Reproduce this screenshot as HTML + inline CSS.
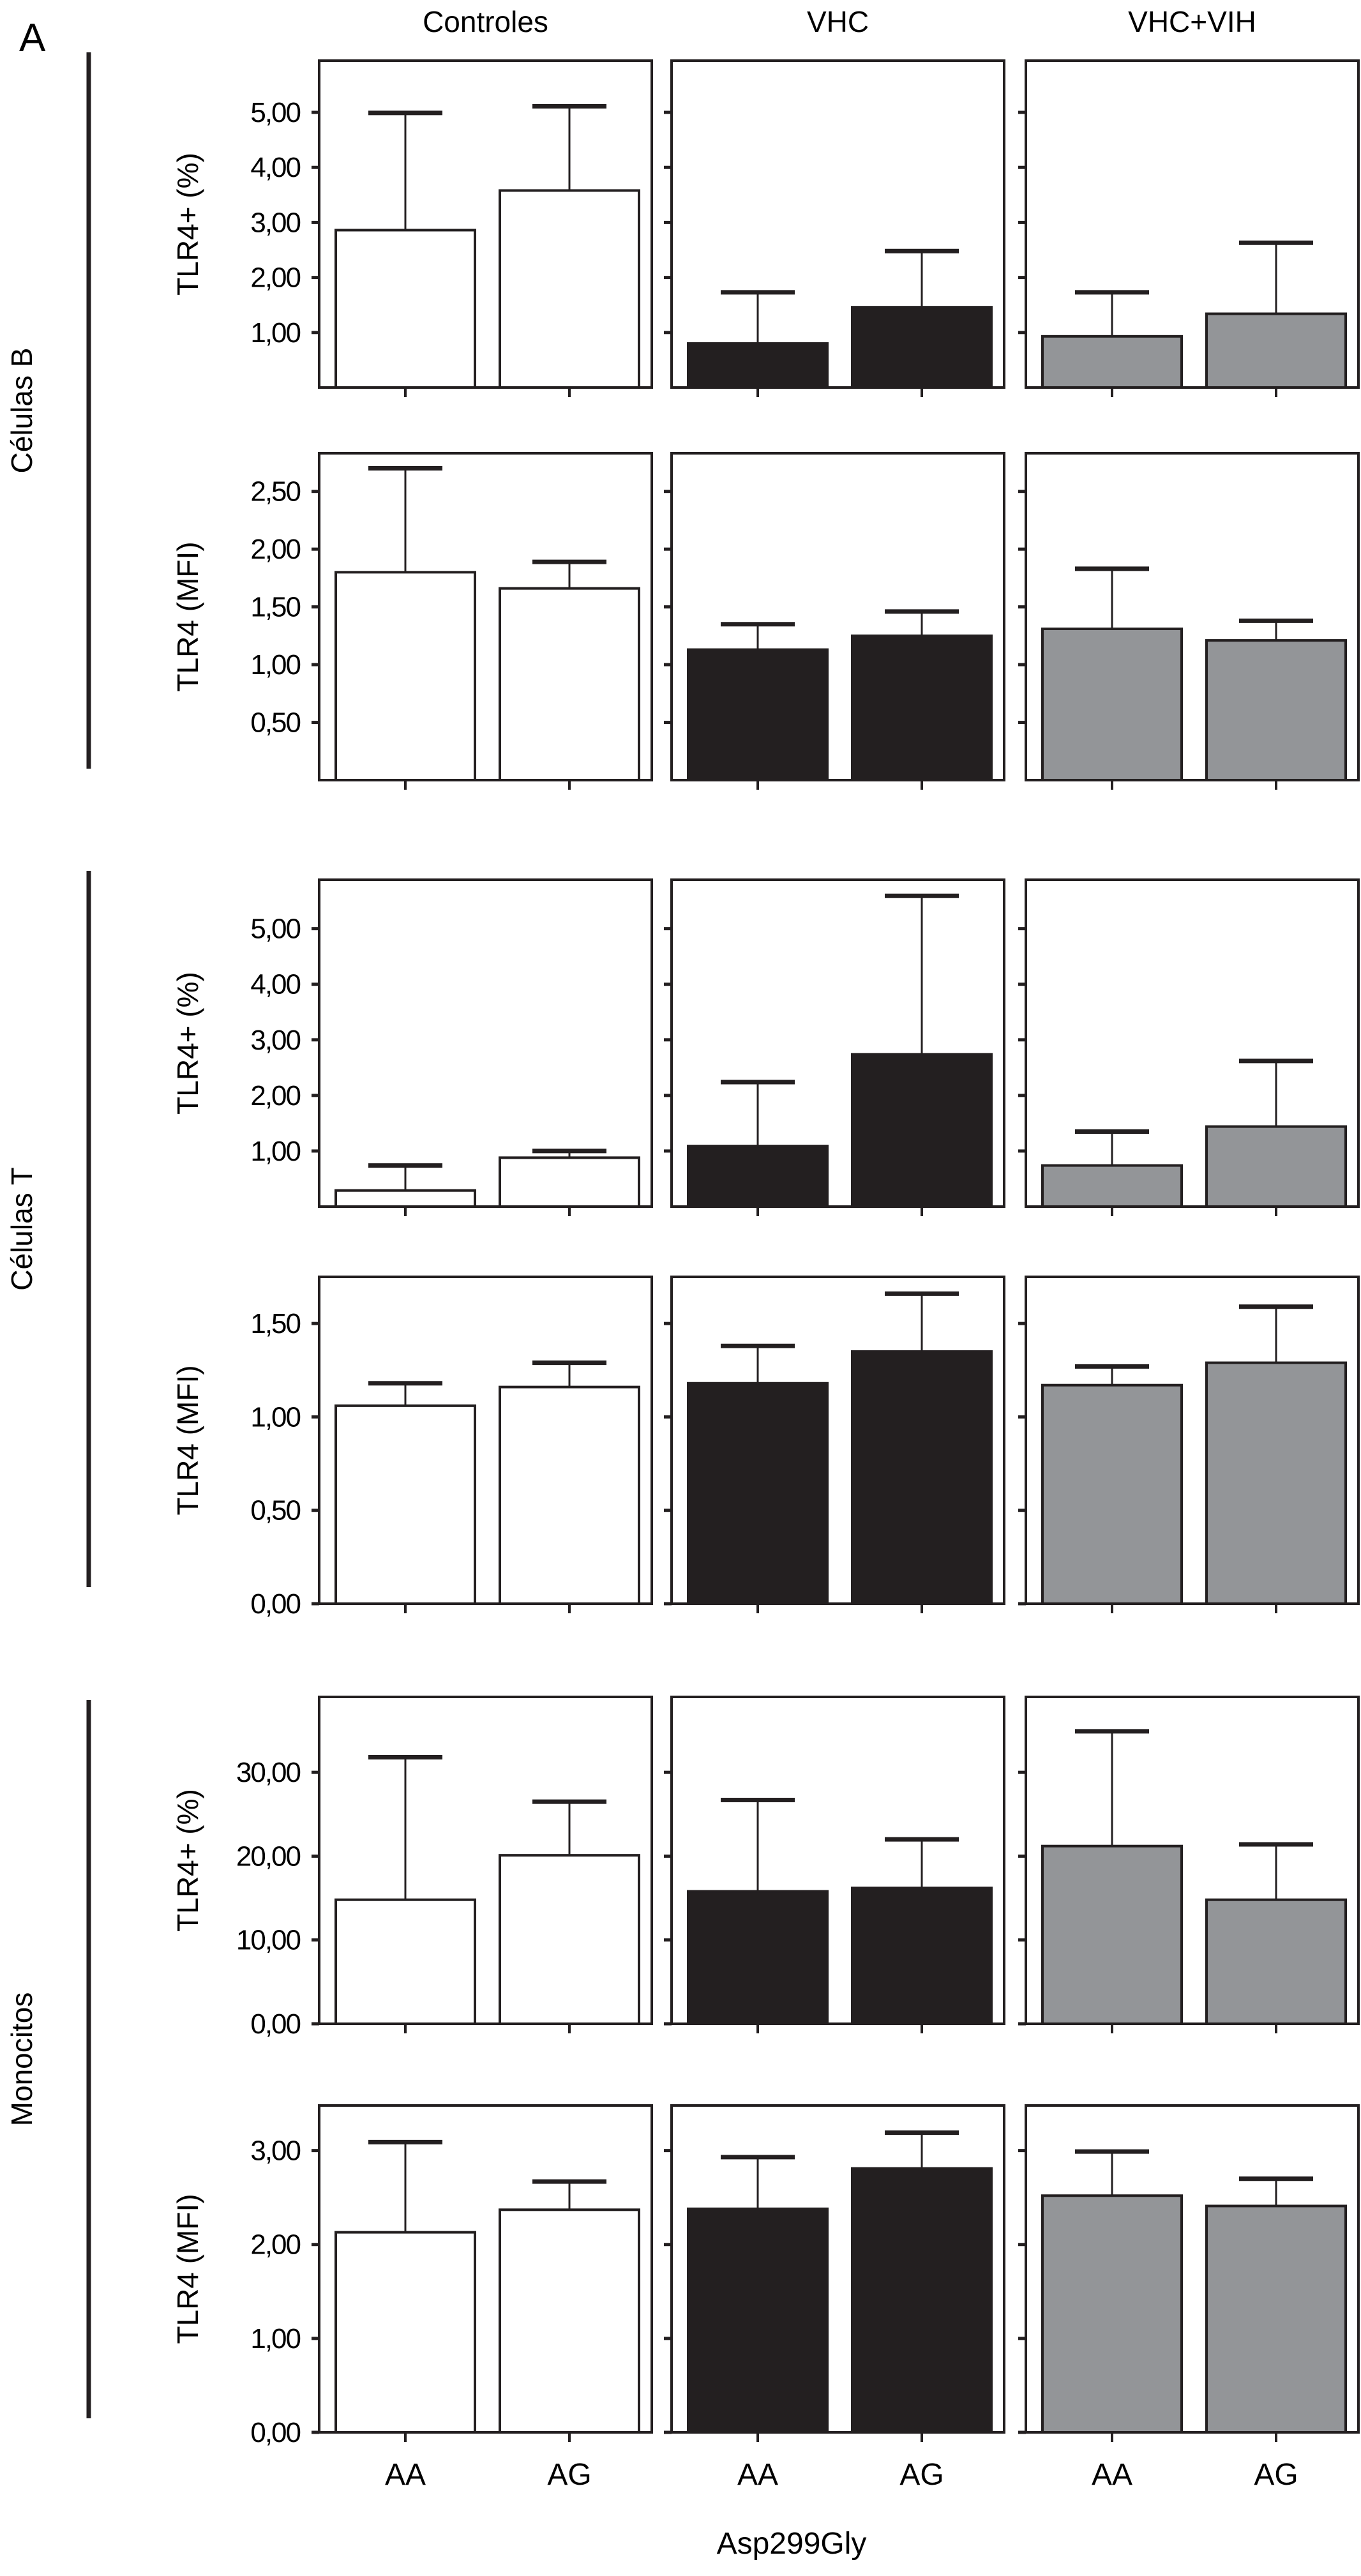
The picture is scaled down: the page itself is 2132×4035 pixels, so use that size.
<!DOCTYPE html>
<html><head><meta charset="utf-8"><style>
html,body{margin:0;padding:0;background:#fff;}
svg{display:block;font-family:"Liberation Sans",sans-serif;}
</style></head><body>
<svg id="chart" width="2132" height="4035" viewBox="0 0 2132 4035" xmlns="http://www.w3.org/2000/svg"></svg>
<script>
const groups = ["Controles","VHC","VHC+VIH"];
const genotypes = ["AA","AG"];
const rowTitles = ["TLR4+ (%)","TLR4 (MFI)","TLR4+ (%)","TLR4 (MFI)","TLR4+ (%)","TLR4 (MFI)"];
const rowMax = [5.94, 2.83, 5.88, 1.75, 39, 3.48];
const rowTicks = [[1,2,3,4,5],[0.5,1,1.5,2,2.5],[1,2,3,4,5],[0,0.5,1,1.5],[0,10,20,30],[0,1,2,3]];
const rowTickLabels = [
 ["1,00","2,00","3,00","4,00","5,00"],
 ["0,50","1,00","1,50","2,00","2,50"],
 ["1,00","2,00","3,00","4,00","5,00"],
 ["0,00","0,50","1,00","1,50"],
 ["0,00","10,00","20,00","30,00"],
 ["0,00","1,00","2,00","3,00"]];
// means [row][group][genotype]
const means = [
 [[2.86,3.58],[0.80,1.46],[0.93,1.34]],
 [[1.80,1.66],[1.13,1.25],[1.31,1.21]],
 [[0.29,0.88],[1.09,2.74],[0.74,1.44]],
 [[1.06,1.16],[1.18,1.35],[1.17,1.29]],
 [[14.8,20.1],[15.8,16.2],[21.2,14.8]],
 [[2.13,2.37],[2.38,2.81],[2.52,2.41]]];
const errTops = [
 [[4.99,5.11],[1.73,2.48],[1.73,2.63]],
 [[2.70,1.89],[1.35,1.46],[1.83,1.38]],
 [[0.74,1.00],[2.24,5.59],[1.35,2.62]],
 [[1.18,1.29],[1.38,1.66],[1.27,1.59]],
 [[31.8,26.5],[26.7,22.0],[34.9,21.4]],
 [[3.09,2.67],[2.93,3.19],[2.99,2.70]]];
const cellTypes = ["Células B","Células T","Monocitos"];

const svg = document.getElementById('chart');
const NS = "http://www.w3.org/2000/svg";
function mk(tag, attrs, parent){
  const e = document.createElementNS(NS, tag);
  for (const k in attrs) e.setAttribute(k, attrs[k]);
  (parent||svg).appendChild(e); return e;
}
const fills = ["#ffffff","#231f20","#939598"];
const panelX = [500,1052,1607];
const panelW = 521;
const rowTop = [95,710,1378,2000,2658,3298];
const panelH = 512;

function txt(s, attrs, name){
  const t = mk('text', attrs);
  t.textContent = s;
  
  
  return t;
}

txt("A",{x:30,y:80,'font-size':62},"panel-letter");
groups.forEach((g,gi)=>{
  txt(g,{x:panelX[gi]+panelW/2,y:50,'font-size':46,'text-anchor':'middle'},"column-title-"+gi);
});

// group bars & labels
const brackets = [[82,1204],[1364,2486],[2663,3788]];
brackets.forEach((b,i)=>{
  const l = mk('line',{x1:139,x2:139,y1:b[0],y2:b[1],stroke:'#231f20','stroke-width':7});
  
  
  const cy=(b[0]+b[1])/2;
  txt(cellTypes[i],{x:0,y:0,'font-size':46,'text-anchor':'middle',transform:`translate(50,${cy}) rotate(-90)`},"cell-type-label-"+i);
});

for (let r=0;r<6;r++){
  const top=rowTop[r], bot=top+panelH;
  const y = v => bot - v/rowMax[r]*panelH;
  txt(rowTitles[r],{x:0,y:0,'font-size':46,'text-anchor':'middle',transform:`translate(310,${top+panelH/2}) rotate(-90)`},"y-axis-title-row"+r);
  rowTicks[r].forEach((tv,ti)=>{
    txt(rowTickLabels[r][ti],{x:470,y:y(tv)+15,'font-size':44,'text-anchor':'end','letter-spacing':-2},"y-tick-label-row"+r);
  });
  for (let g=0; g<3; g++){
    const px=panelX[g];
    const frame = mk('rect',{x:px,y:top,width:panelW,height:panelH,fill:'none',stroke:'#231f20','stroke-width':4});
    
    
    rowTicks[r].forEach(tv=>{
      const t=mk('line',{x1:px-12,x2:px,y1:y(tv),y2:y(tv),stroke:'#231f20','stroke-width':5});
      
      
    });
    for (let k=0;k<2;k++){
      const cx = px + (k===0?135:392);
      const bw = 218;
      const m = means[r][g][k], e = errTops[r][g][k];
      const el = mk('line',{x1:cx,x2:cx,y1:y(e),y2:y(m),stroke:'#231f20','stroke-width':3});
      
      
      const cap = mk('line',{x1:cx-58,x2:cx+58,y1:y(e),y2:y(e),stroke:'#231f20','stroke-width':7});
      
      
      const bar = mk('rect',{x:cx-bw/2,y:y(m),width:bw,height:bot-y(m),fill:fills[g],stroke:'#231f20','stroke-width':4});
      
      
      const xt = mk('line',{x1:cx,x2:cx,y1:bot,y2:bot+15,stroke:'#231f20','stroke-width':4});
      
      
      if (r===5){
        txt(genotypes[k],{x:cx,y:3892,'font-size':48,'text-anchor':'middle'},"x-tick-label");
      }
    }
  }
}
txt("Asp299Gly",{x:1240,y:4000,'font-size':48,'text-anchor':'middle'},"x-axis-title");
</script>
</body></html>
